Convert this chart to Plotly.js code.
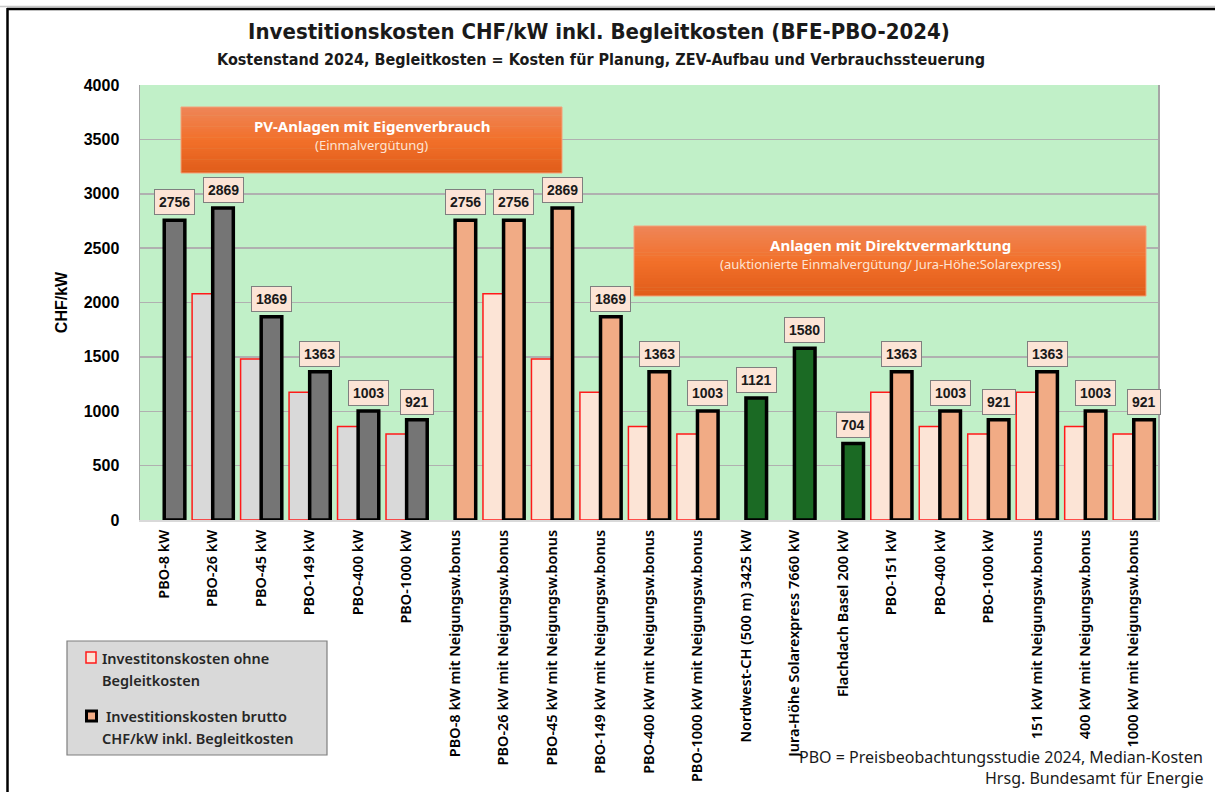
<!DOCTYPE html>
<html>
<head>
<meta charset="utf-8">
<script src="https://cdn.plot.ly/plotly-3.0.1.min.js"></script>
<style>
  html, body { margin: 0; padding: 0; background: #ffffff; }
  #chart { width: 1215px; height: 792px; }
</style>
</head>
<body>
<div id="chart"></div>
<script>
// ---------- DATA ----------
const categories = [
  'PBO-8 kW', 'PBO-26 kW', 'PBO-45 kW', 'PBO-149 kW', 'PBO-400 kW', 'PBO-1000 kW',
  'PBO-8 kW mit Neigungsw.bonus', 'PBO-26 kW mit Neigungsw.bonus', 'PBO-45 kW mit Neigungsw.bonus',
  'PBO-149 kW mit Neigungsw.bonus', 'PBO-400 kW mit Neigungsw.bonus', 'PBO-1000 kW mit Neigungsw.bonus',
  'Nordwest-CH (500 m) 3425 kW', 'Jura-Höhe Solarexpress 7660 kW', 'Flachdach Basel 200 kW',
  'PBO-151 kW', 'PBO-400 kW', 'PBO-1000 kW',
  '151 kW mit Neigungsw.bonus', '400 kW mit Neigungsw.bonus', '1000 kW mit Neigungsw.bonus'
];
const ohneBegleitkosten = [null, 2080, 1480, 1175, 860, 790, null, 2080, 1480, 1175, 860, 790,
  null, null, null, 1175, 860, 790, 1175, 860, 790];
const bruttoInklBegleitkosten = [2756, 2869, 1869, 1363, 1003, 921, 2756, 2756, 2869, 1869, 1363, 1003,
  1121, 1580, 704, 1363, 1003, 921, 1363, 1003, 921];
const categoryGroup = ['grau','grau','grau','grau','grau','grau',
  'orange','orange','orange','orange','orange','orange',
  'gruen','gruen','gruen',
  'orange','orange','orange','orange','orange','orange'];
const yTickValues = [0, 500, 1000, 1500, 2000, 2500, 3000, 3500, 4000];

// ---------- STYLE ----------
const lightColor = {grau: '#d9d9d9', orange: '#fce4d6', gruen: '#fce4d6'};
const darkColor = {grau: '#757575', orange: '#f1ab85', gruen: '#1b6a24'};
const W = 1215, H = 792;
const M = {l: 140, r: 57, t: 85, b: 272};
const plotW = W - M.l - M.r, plotH = H - M.t - M.b;
const BARGAP = 0.15;
const px = x => (x - M.l) / plotW;
const py = y => (H - M.b - y) / plotH;

const xIdx = categories.map((_, i) => i);

const traces = [
  {
    type: 'bar', x: xIdx, y: ohneBegleitkosten, name: 'Investitonskosten ohne Begleitkosten',
    marker: {color: categoryGroup.map(g => lightColor[g]), line: {color: '#ff1a1a', width: 1.5}},
    hoverinfo: 'y', showlegend: false
  },
  {
    type: 'bar', x: xIdx, y: bruttoInklBegleitkosten, name: 'Investitionskosten brutto CHF/kW inkl. Begleitkosten',
    marker: {color: categoryGroup.map(g => darkColor[g]), line: {color: '#000000', width: 3.5}},
    hoverinfo: 'y', showlegend: false
  }
];

const shapes = [];
const annotations = [];

// value labels
const xshift = (plotW / categories.length) * (1 - BARGAP) / 4;
bruttoInklBegleitkosten.forEach((v, i) => {
  annotations.push({
    x: i, y: v, xref: 'x', yref: 'y', text: '<b>' + v + '</b>', showarrow: false,
    xanchor: 'center', yanchor: 'bottom', xshift: xshift, yshift: 5,
    bgcolor: '#fce4d6', bordercolor: '#7f7f7f', borderwidth: 1, borderpad: 4,
    font: {family: 'Liberation Sans, Arial, sans-serif', size: 14, color: '#1a1a1a'}
  });
});

// gradient orange boxes
function hex2rgb(h) { return [1,3,5].map(k => parseInt(h.substr(k,2),16)); }
function mix(a, b, t) { const A = hex2rgb(a), B = hex2rgb(b);
  return 'rgb(' + A.map((c, k) => Math.round(c + (B[k]-c)*t)).join(',') + ')'; }
function orangeBox(x0, y0, x1, y1, title, sub) {
  const N = 24;
  for (let k = 0; k < N; k++) {
    const t = (k + 0.5) / N;
    const col = t < 0.5 ? mix('#ee8659', '#f2702a', t / 0.5) : mix('#f2702a', '#e05c1a', (t - 0.5) / 0.5);
    const ya = y0 + (y1 - y0) * k / N, yb = y0 + (y1 - y0) * (k + 1) / N + 0.6;
    shapes.push({type: 'rect', xref: 'paper', yref: 'paper', x0: px(x0), x1: px(x1), y0: py(ya), y1: py(Math.min(yb, y1)),
      fillcolor: col, line: {width: 0}, layer: 'above'});
  }
  shapes.push({type: 'rect', xref: 'paper', yref: 'paper', x0: px(x0), x1: px(x1), y0: py(y0), y1: py(y1),
    fillcolor: 'rgba(0,0,0,0)', line: {color: '#f4a27a', width: 1}, layer: 'above'});
  const cx = (x0 + x1) / 2;
  annotations.push({xref: 'paper', yref: 'paper', x: px(cx), y: py(y0 + 19), text: '<b>' + title + '</b>', showarrow: false,
    xanchor: 'center', yanchor: 'middle', font: {family: 'Noto Sans, sans-serif', size: 15, color: '#ffffff'}});
  annotations.push({xref: 'paper', yref: 'paper', x: px(cx), y: py(y0 + 38), text: sub, showarrow: false,
    xanchor: 'center', yanchor: 'middle', font: {family: 'Noto Sans, sans-serif', size: 13, color: '#fde3d3'}});
}
orangeBox(181, 107, 562, 173, 'PV-Anlagen mit Eigenverbrauch', '(Einmalvergütung)');
orangeBox(634, 226, 1146, 296, 'Anlagen mit Direktvermarktung', '(auktionierte Einmalvergütung/ Jura-Höhe:Solarexpress)');

// legend box
shapes.push({type: 'rect', xref: 'paper', yref: 'paper', x0: px(67), x1: px(327), y0: py(641), y1: py(755),
  fillcolor: '#d9d9d9', line: {color: '#7f7f7f', width: 1.2}, layer: 'above'});
shapes.push({type: 'rect', xref: 'paper', yref: 'paper', x0: px(86), x1: px(96), y0: py(652), y1: py(663),
  fillcolor: '#fce4d6', line: {color: '#ff1a1a', width: 1.5}, layer: 'above'});
shapes.push({type: 'rect', xref: 'paper', yref: 'paper', x0: px(86.5), x1: px(96.5), y0: py(711), y1: py(721),
  fillcolor: '#f1ab85', line: {color: '#000000', width: 3}, layer: 'above'});
const legFont = {family: 'Noto Sans, sans-serif', size: 14.5, color: '#262626', weight: 600};
[[100, 658, 'Investitonskosten ohne'], [100, 680, 'Begleitkosten'],
 [104, 716, 'Investitionskosten brutto'], [100, 738, 'CHF/kW inkl. Begleitkosten']].forEach(([x, y, t]) => {
  annotations.push({xref: 'paper', yref: 'paper', x: px(x), y: py(y), text: t, showarrow: false,
    xanchor: 'left', yanchor: 'middle', font: legFont});
});

// footnotes
const noteFont = {family: 'Noto Sans, sans-serif', size: 16, color: '#1a1a1a'};
annotations.push({xref: 'paper', yref: 'paper', x: px(1205), y: py(757), text: 'PBO = Preisbeobachtungsstudie 2024, Median-Kosten',
  showarrow: false, xanchor: 'right', yanchor: 'middle', font: noteFont});
annotations.push({xref: 'paper', yref: 'paper', x: px(1205), y: py(778), text: 'Hrsg. Bundesamt für Energie',
  showarrow: false, xanchor: 'right', yanchor: 'middle', font: noteFont});

// subtitle
annotations.push({xref: 'paper', yref: 'paper', x: px(601), y: py(60),
  text: '<b>Kostenstand 2024, Begleitkosten = Kosten für Planung, ZEV-Aufbau und Verbrauchssteuerung</b>',
  showarrow: false, xanchor: 'center', yanchor: 'middle',
  font: {family: 'Liberation Sans Narrow, DejaVu Sans Condensed, Arial Narrow, sans-serif', size: 16, color: '#1a1a1a'}});

// outer frame
shapes.push({type: 'line', xref: 'paper', yref: 'paper', x0: px(0), x1: px(1215), y0: py(6.5), y1: py(6.5),
  line: {color: '#c8c8c8', width: 1.5}, layer: 'above'});
shapes.push({type: 'line', xref: 'paper', yref: 'paper', x0: px(7), x1: px(1215), y0: py(9), y1: py(9),
  line: {color: '#000000', width: 2.5}, layer: 'above'});
shapes.push({type: 'line', xref: 'paper', yref: 'paper', x0: px(7.5), x1: px(7.5), y0: py(8), y1: py(792),
  line: {color: '#000000', width: 2.5}, layer: 'above'});

const layout = {
  width: W, height: H,
  margin: M,
  paper_bgcolor: '#ffffff',
  plot_bgcolor: '#c1f0c8',
  barmode: 'group', bargap: BARGAP, bargroupgap: 0,
  showlegend: false,
  title: {
    text: '<b>Investitionskosten CHF/kW inkl. Begleitkosten (BFE-PBO-2024)</b>',
    x: 599 / W, xanchor: 'center', xref: 'container',
    y: 1 - 31 / H, yanchor: 'middle', yref: 'container',
    font: {family: 'Liberation Sans Narrow, DejaVu Sans Condensed, Arial Narrow, sans-serif', size: 22, color: '#1a1a1a'}
  },
  xaxis: {
    range: [-0.5, categories.length - 0.5],
    tickmode: 'array', tickvals: xIdx, ticktext: categories, tickangle: -90,
    tickfont: {family: 'Noto Sans, sans-serif', size: 14.5, color: '#000000', weight: 600},
    ticks: '', ticklabelstandoff: 2,
    showgrid: false, zeroline: false,
    showline: true, linecolor: '#d9d9d9', linewidth: 2,
    fixedrange: true
  },
  yaxis: {
    range: [0, 4000], tickmode: 'array', tickvals: yTickValues,
    tickfont: {family: 'Liberation Sans, Arial, sans-serif', size: 16, color: '#000000', weight: 700},
    ticks: '', ticklabelstandoff: 16,
    showgrid: true, gridcolor: '#b0b0b0', gridwidth: 1.5,
    zeroline: false, showline: true, mirror: true, linecolor: '#a6a6a6', linewidth: 1.5,
    title: {text: '<b>CHF/kW</b>', standoff: 12,
      font: {family: 'Liberation Sans, Arial, sans-serif', size: 16, color: '#000000'}},
    fixedrange: true
  },
  shapes: shapes,
  annotations: annotations
};

Plotly.newPlot('chart', traces, layout, {displayModeBar: false, staticPlot: true});
</script>
</body>
</html>
